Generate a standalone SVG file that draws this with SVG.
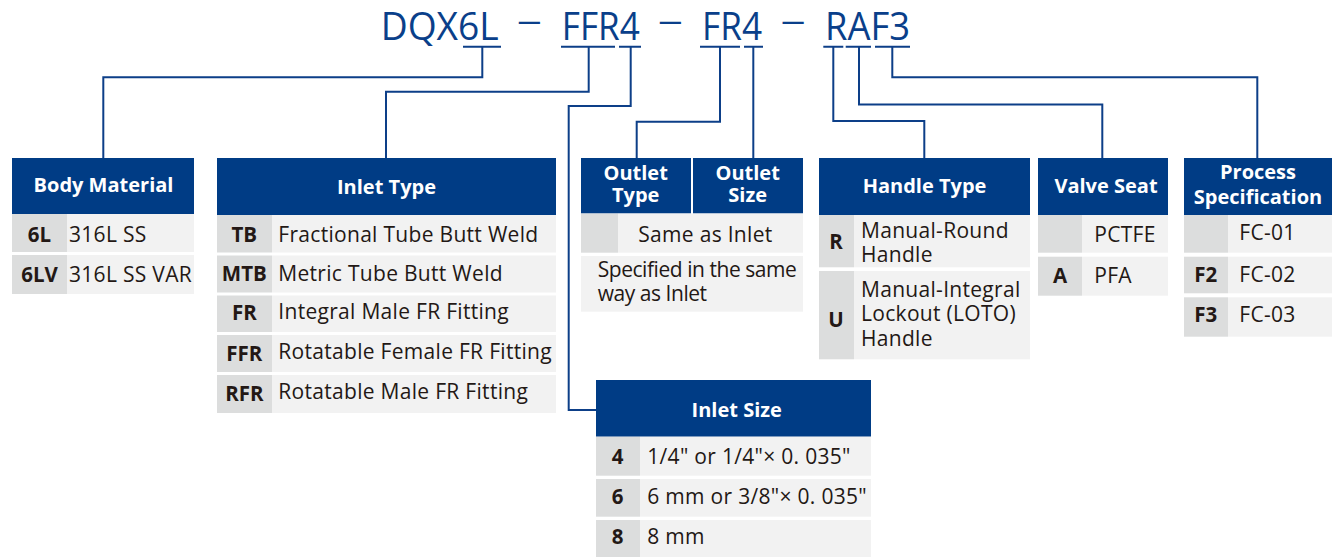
<svg xmlns="http://www.w3.org/2000/svg" width="1332" height="557" viewBox="0 0 1332 557">
<style>
text{font-family:"Open Sans","Noto Sans","DejaVu Sans",sans-serif}
.ti{font-size:39px;font-weight:500;fill:#0a3f8a}
.da{font-size:28px;font-weight:500;fill:#0a3f8a;text-anchor:middle}
.hd{fill:#003c85}
.cd{fill:#dcdddd}
.rw{fill:#f2f2f2}
.ht{font-size:20px;font-weight:700;fill:#fff;text-anchor:middle}
.ct{font-size:20.5px;font-weight:700;fill:#231815;text-anchor:middle}
.tx{font-size:21px;fill:#231815;letter-spacing:0.3px}
.ln{stroke:#0d3f88;stroke-width:2;fill:none}
</style>
<g id="title">
<text class="ti" x="380.7" y="40" textLength="118" lengthAdjust="spacingAndGlyphs">DQX6L</text>
<text class="da" transform="translate(529.4 30.8) scale(1.8 1.1)">–</text>
<text class="ti" x="561.8" y="40" textLength="78" lengthAdjust="spacingAndGlyphs">FFR4</text>
<text class="da" transform="translate(670.4 30.8) scale(1.8 1.1)">–</text>
<text class="ti" x="702" y="40" textLength="60" lengthAdjust="spacingAndGlyphs">FR4</text>
<text class="da" transform="translate(793 30.8) scale(1.8 1.1)">–</text>
<text class="ti" x="825" y="40" textLength="85" lengthAdjust="spacingAndGlyphs">RAF3</text>
</g>
<g id="connectors" class="ln">
<path d="M463 46.7H501M561 46.7H615M619 46.7H641M700 46.7H740M744 46.7H763M823.3 46.7H843.3M845.7 46.7H871M875 46.7H910"/>
<polyline points="482.3,46.7 482.3,77.3 103.3,77.3 103.3,158"/>
<polyline points="588.7,46.7 588.7,91.7 386,91.7 386,158"/>
<polyline points="630.7,46.7 630.7,106 568.7,106 568.7,410 596,410"/>
<polyline points="720,46.7 720,121.7 636.7,121.7 636.7,158"/>
<polyline points="753.3,46.7 753.3,158"/>
<polyline points="833.3,46.7 833.3,121 924.3,121 924.3,158"/>
<polyline points="859,46.7 859,104.5 1102.3,104.5 1102.3,158"/>
<polyline points="892.3,46.7 892.3,77.3 1257.3,77.3 1257.3,158"/>
</g>
<g id="body-material">
<rect class="hd" x="12" y="158" width="182" height="56"/>
<text class="ht" x="103.5" y="192">Body Material</text>
<rect class="cd" x="12" y="214" width="55" height="38"/><rect class="rw" x="67" y="214" width="127" height="38"/>
<rect class="cd" x="12" y="255" width="55" height="39"/><rect class="rw" x="67" y="255" width="127" height="39"/>
<text class="ct" x="39.5" y="241.7">6L</text><text class="tx" x="69" y="241.7">316L SS</text>
<text class="ct" x="39.5" y="282">6LV</text><text class="tx" x="69" y="282">316L SS VAR</text>
</g>
<g id="inlet-type">
<rect class="hd" x="217" y="158" width="339" height="57"/>
<text class="ht" x="386.5" y="194">Inlet Type</text>
<rect class="cd" x="217" y="215" width="55" height="37.5"/><rect class="rw" x="272" y="215" width="284" height="37.5"/>
<rect class="cd" x="217" y="255.5" width="55" height="37"/><rect class="rw" x="272" y="255.5" width="284" height="37"/>
<rect class="cd" x="217" y="295.5" width="55" height="36.5"/><rect class="rw" x="272" y="295.5" width="284" height="36.5"/>
<rect class="cd" x="217" y="335" width="55" height="37"/><rect class="rw" x="272" y="335" width="284" height="37"/>
<rect class="cd" x="217" y="375" width="55" height="38"/><rect class="rw" x="272" y="375" width="284" height="38"/>
<text class="ct" x="244.3" y="241.7">TB</text><text class="tx" x="278.3" y="241.7">Fractional Tube Butt Weld</text>
<text class="ct" x="244.3" y="281">MTB</text><text class="tx" x="278.3" y="281">Metric Tube Butt Weld</text>
<text class="ct" x="244.3" y="320">FR</text><text class="tx" x="278.3" y="319">Integral Male FR Fitting</text>
<text class="ct" x="244.3" y="361">FFR</text><text class="tx" x="278.3" y="359.3">Rotatable Female FR Fitting</text>
<text class="ct" x="244.3" y="401">RFR</text><text class="tx" x="278.3" y="399">Rotatable Male FR Fitting</text>
</g>
<g id="outlet">
<rect class="hd" x="581" y="158" width="110" height="55.5"/>
<rect class="hd" x="693" y="158" width="110" height="55.5"/>
<text class="ht" x="635.7" y="180">Outlet<tspan x="635.7" dy="22.3">Type</tspan></text>
<text class="ht" x="747.7" y="180">Outlet<tspan x="747.7" dy="22.3">Size</tspan></text>
<rect class="cd" x="581" y="213.5" width="37" height="39.2"/><rect class="rw" x="618" y="213.5" width="185" height="39.2"/>
<rect class="rw" x="581" y="256" width="222" height="55.7"/>
<text class="tx" x="638.3" y="241.7">Same as Inlet</text>
<text class="tx" x="597.7" y="276.7" style="letter-spacing:-0.45px">Specified in the same<tspan x="597.7" dy="24">way as Inlet</tspan></text>
</g>
<g id="handle-type">
<rect class="hd" x="819" y="158" width="211" height="57"/>
<text class="ht" x="924.5" y="193">Handle Type</text>
<rect class="cd" x="819" y="215" width="35" height="52.3"/><rect class="rw" x="854" y="215" width="176" height="52.3"/>
<rect class="cd" x="819" y="271" width="35" height="88.3"/><rect class="rw" x="854" y="271" width="176" height="88.3"/>
<text class="ct" x="836" y="249.3">R</text>
<text class="tx" x="861" y="238.3">Manual-Round<tspan x="861" dy="24">Handle</tspan></text>
<text class="ct" x="836" y="326.7">U</text>
<text class="tx" x="861" y="296.7">Manual-Integral<tspan x="861" dy="24.5">Lockout (LOTO)</tspan><tspan x="861" dy="24.5">Handle</tspan></text>
</g>
<g id="valve-seat">
<rect class="hd" x="1038" y="158" width="130" height="57"/>
<text class="ht" x="1106" y="193.3">Valve Seat</text>
<rect class="cd" x="1038" y="215" width="44" height="37.7"/><rect class="rw" x="1082" y="215" width="86" height="37.7"/>
<rect class="cd" x="1038" y="256.7" width="44" height="39"/><rect class="rw" x="1082" y="256.7" width="86" height="39"/>
<text class="tx" x="1094.3" y="241.7">PCTFE</text>
<text class="ct" x="1060" y="282.7">A</text><text class="tx" x="1094.3" y="282.7">PFA</text>
</g>
<g id="process-specification">
<rect class="hd" x="1184" y="158" width="148" height="57"/>
<text class="ht" x="1258" y="179.3">Process<tspan x="1258" dy="24.7">Specification</tspan></text>
<rect class="cd" x="1184" y="215" width="44" height="37.7"/><rect class="rw" x="1228" y="215" width="104" height="37.7"/>
<rect class="cd" x="1184" y="256.7" width="44" height="36.6"/><rect class="rw" x="1228" y="256.7" width="104" height="36.6"/>
<rect class="cd" x="1184" y="297.3" width="44" height="39.4"/><rect class="rw" x="1228" y="297.3" width="104" height="39.4"/>
<text class="tx" x="1239.3" y="240">FC-01</text>
<text class="ct" x="1205.7" y="281.7">F2</text><text class="tx" x="1239.3" y="281.7">FC-02</text>
<text class="ct" x="1205.7" y="321.7">F3</text><text class="tx" x="1239.3" y="321.7">FC-03</text>
</g>
<g id="inlet-size">
<rect class="hd" x="596" y="380" width="275" height="56.7"/>
<text class="ht" x="736.7" y="416.7">Inlet Size</text>
<rect class="cd" x="596" y="436.7" width="44" height="39"/><rect class="rw" x="640" y="436.7" width="231" height="39"/>
<rect class="cd" x="596" y="479" width="44" height="37.7"/><rect class="rw" x="640" y="479" width="231" height="37.7"/>
<rect class="cd" x="596" y="520" width="44" height="37"/><rect class="rw" x="640" y="520" width="231" height="37"/>
<text class="ct" x="617.7" y="464.3">4</text><text class="tx" x="647.3" y="464.3">1/4" or 1/4"× 0. 035"</text>
<text class="ct" x="617.7" y="504.3">6</text><text class="tx" x="647.3" y="504.3">6 mm or 3/8"× 0. 035"</text>
<text class="ct" x="617.7" y="544.3">8</text><text class="tx" x="647.3" y="544.3">8 mm</text>
</g>
</svg>
